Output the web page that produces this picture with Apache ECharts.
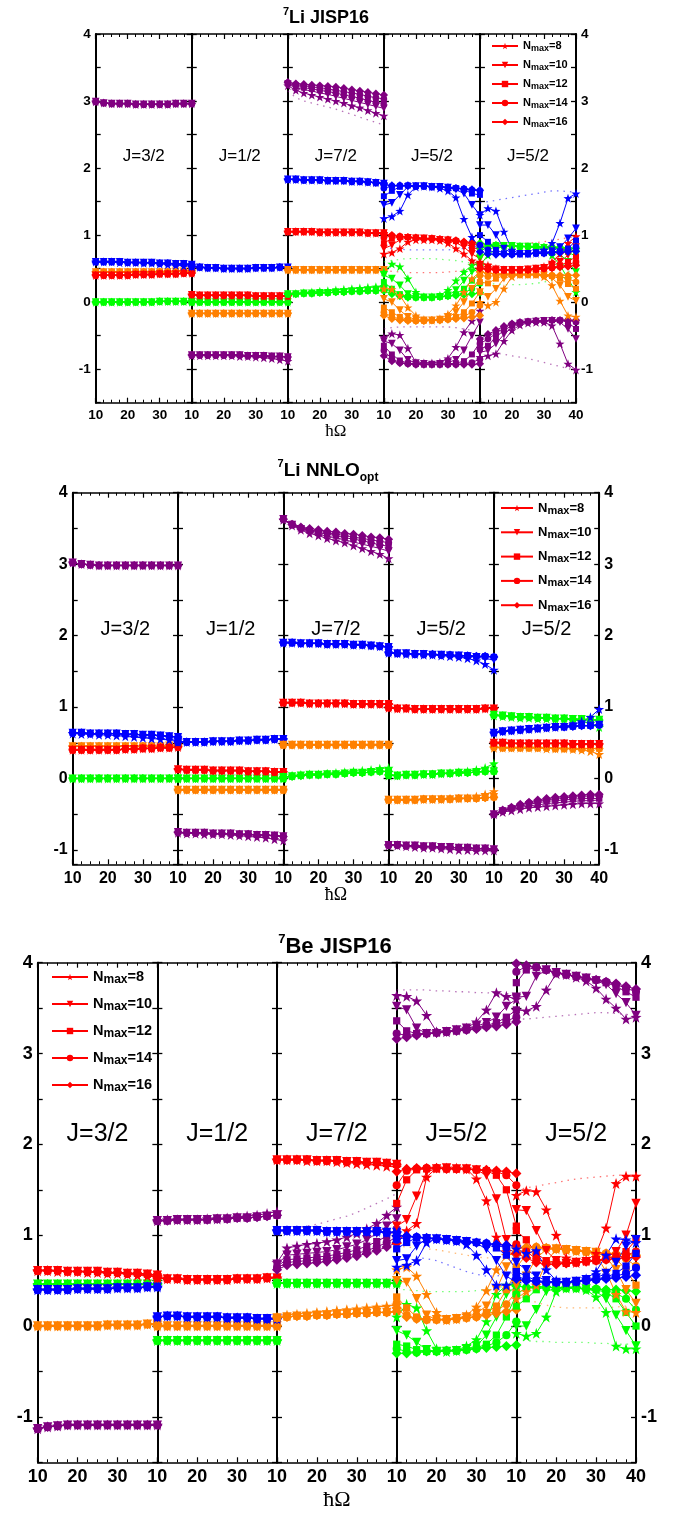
<!DOCTYPE html>
<html>
<head>
<meta charset="utf-8">
<script src="https://cdn.jsdelivr.net/npm/echarts@6/dist/echarts.min.js"></script>
<style>
  html, body { margin: 0; padding: 0; background: #fff; }
  #chart { width: 675px; height: 1513px; }
</style>
</head>
<body>
<div id="chart"></div>
<script>
// hbar-omega grid (MeV), Nmax values
const hbarOmega = [10, 12.5, 15, 17.5, 20, 22.5, 25, 27.5, 30, 32.5, 35, 37.5, 40]
const nmaxList = [8, 10, 12, 14, 16]
const subLabels = ['J=3/2', 'J=1/2', 'J=7/2', 'J=5/2', 'J=5/2']

// each level: curves for Nmax=8,10,... ; the last curve listed is shared by the remaining higher Nmax

// ---------- 7Li JISP16 ----------
const liJ_32 = {
  purple: [[2.99, 2.97, 2.96, 2.96, 2.96, 2.95, 2.95, 2.95, 2.95, 2.95, 2.96, 2.96, 2.96]],
  blue: [[0.60, 0.60, 0.60, 0.59, 0.59, 0.59, 0.58, 0.58, 0.57, 0.56, 0.55, 0.54, 0.54],
         [0.60, 0.60, 0.60, 0.60, 0.59, 0.59, 0.59, 0.59, 0.58, 0.58, 0.57, 0.57, 0.56]],
  red: [[0.40, 0.40, 0.40, 0.40, 0.40, 0.41, 0.41, 0.41, 0.42, 0.42, 0.42, 0.43, 0.43]],
  orange: [[0.45, 0.45, 0.45, 0.45, 0.45, 0.45, 0.45, 0.45, 0.45, 0.45, 0.46, 0.46, 0.46]],
  green: [[0.00, 0.00, 0.00, 0.00, 0.00, 0.00, 0.00, 0.00, 0.01, 0.01, 0.01, 0.01, 0.01]]
}
const liJ_12 = {
  blue: [[0.53, 0.52, 0.51, 0.51, 0.50, 0.50, 0.50, 0.50, 0.51, 0.51, 0.51, 0.52, 0.52]],
  red: [[0.11, 0.10, 0.10, 0.10, 0.10, 0.10, 0.10, 0.10, 0.09, 0.09, 0.09, 0.09, 0.09]],
  green: [[0.00, 0.00, 0.00, 0.00, 0.00, 0.00, 0.00, 0.00, 0.00, 0.00, 0.00, 0.00, 0.00]],
  orange: [[-0.17, -0.17, -0.17, -0.17, -0.17, -0.17, -0.17, -0.17, -0.17, -0.17, -0.17, -0.17, -0.17]],
  purple: [[-0.80, -0.80, -0.80, -0.80, -0.80, -0.80, -0.81, -0.81, -0.82, -0.83, -0.84, -0.86, -0.88],
           [-0.79, -0.79, -0.79, -0.79, -0.79, -0.79, -0.79, -0.80, -0.80, -0.80, -0.81, -0.81, -0.82]]
}
const liJ_72 = {
  purple: [[3.23, 3.16, 3.12, 3.09, 3.06, 3.03, 3.00, 2.97, 2.93, 2.90, 2.86, 2.82, 2.78],
           [3.25, 3.20, 3.17, 3.15, 3.12, 3.10, 3.07, 3.04, 3.01, 2.98, 2.95, 2.92, 2.89],
           [3.26, 3.22, 3.20, 3.18, 3.16, 3.14, 3.12, 3.09, 3.07, 3.04, 3.01, 2.98, 2.96],
           [3.27, 3.24, 3.23, 3.21, 3.20, 3.18, 3.16, 3.14, 3.12, 3.10, 3.07, 3.05, 3.03],
           [3.28, 3.26, 3.25, 3.24, 3.23, 3.22, 3.21, 3.19, 3.17, 3.15, 3.13, 3.11, 3.09]],
  blue: [[1.83, 1.83, 1.82, 1.82, 1.82, 1.81, 1.81, 1.81, 1.80, 1.80, 1.79, 1.78, 1.77]],
  red: [[1.05, 1.05, 1.05, 1.05, 1.04, 1.04, 1.04, 1.04, 1.04, 1.04, 1.03, 1.03, 1.03]],
  orange: [[0.48, 0.48, 0.48, 0.48, 0.48, 0.48, 0.48, 0.48, 0.48, 0.48, 0.48, 0.48, 0.48]],
  green: [[0.12, 0.13, 0.14, 0.15, 0.16, 0.17, 0.18, 0.19, 0.20, 0.21, 0.22, 0.23, 0.24],
          [0.12, 0.12, 0.13, 0.13, 0.14, 0.14, 0.15, 0.15, 0.16, 0.16, 0.17, 0.17, 0.18]]
}
const liJ_72_dots = {
  purple: [3.15, 3.05, 3.00, 2.97, 2.94, 2.91, 2.88, 2.84, 2.80, 2.76, 2.72, 2.68, 2.64]
}
const liJ_52a = {
  blue: [[1.25, 1.28, 1.36, 1.60, 1.72, 1.73, 1.72, 1.70, 1.66, 1.56, 1.24, 0.97, 0.80],
         [1.45, 1.48, 1.60, 1.72, 1.73, 1.73, 1.72, 1.72, 1.71, 1.68, 1.62, 1.45, 1.30],
         [1.58, 1.66, 1.72, 1.74, 1.73, 1.73, 1.72, 1.72, 1.71, 1.70, 1.68, 1.62, 1.60],
         [1.70, 1.73, 1.74, 1.74, 1.73, 1.73, 1.72, 1.72, 1.71, 1.70, 1.69, 1.67, 1.66],
         [1.75, 1.74, 1.74, 1.74, 1.73, 1.73, 1.72, 1.72, 1.71, 1.70, 1.69, 1.68, 1.67]],
  red: [[0.72, 0.74, 0.80, 0.90, 0.93, 0.93, 0.93, 0.92, 0.88, 0.80, 0.72, 0.62, 0.55],
        [0.80, 0.85, 0.93, 0.96, 0.95, 0.95, 0.94, 0.93, 0.92, 0.89, 0.82, 0.72, 0.65],
        [0.88, 0.95, 0.97, 0.97, 0.96, 0.95, 0.95, 0.94, 0.93, 0.91, 0.88, 0.82, 0.78],
        [0.96, 0.99, 0.98, 0.97, 0.96, 0.95, 0.95, 0.94, 0.93, 0.92, 0.89, 0.87, 0.84],
        [1.01, 1.00, 0.98, 0.97, 0.96, 0.95, 0.95, 0.94, 0.93, 0.92, 0.90, 0.89, 0.87]],
  green: [[0.45, 0.57, 0.53, 0.35, 0.15, 0.08, 0.08, 0.10, 0.18, 0.32, 0.45, 0.55, 0.58],
          [0.40, 0.35, 0.25, 0.12, 0.08, 0.07, 0.07, 0.08, 0.10, 0.18, 0.32, 0.45, 0.50],
          [0.30, 0.20, 0.12, 0.08, 0.07, 0.07, 0.07, 0.08, 0.09, 0.12, 0.20, 0.32, 0.42],
          [0.22, 0.15, 0.10, 0.08, 0.07, 0.07, 0.07, 0.08, 0.09, 0.11, 0.14, 0.20, 0.28],
          [0.17, 0.12, 0.09, 0.07, 0.07, 0.07, 0.07, 0.08, 0.09, 0.10, 0.11, 0.12, 0.14]],
  orange: [[0.20, 0.19, 0.10, -0.08, -0.20, -0.26, -0.27, -0.25, -0.18, -0.05, 0.15, 0.35, 0.45],
           [0.05, 0.00, -0.12, -0.22, -0.26, -0.27, -0.27, -0.26, -0.23, -0.15, 0.00, 0.20, 0.35],
           [-0.08, -0.15, -0.22, -0.26, -0.27, -0.27, -0.27, -0.26, -0.25, -0.22, -0.15, -0.02, 0.15],
           [-0.15, -0.22, -0.25, -0.27, -0.28, -0.28, -0.27, -0.27, -0.26, -0.24, -0.21, -0.15, -0.05],
           [-0.20, -0.25, -0.27, -0.28, -0.28, -0.28, -0.27, -0.27, -0.26, -0.25, -0.24, -0.22, -0.20]],
  purple: [[-0.52, -0.47, -0.49, -0.69, -0.90, -0.91, -0.91, -0.90, -0.84, -0.67, -0.45, -0.28, -0.13],
           [-0.58, -0.62, -0.72, -0.86, -0.91, -0.92, -0.93, -0.92, -0.90, -0.86, -0.72, -0.50, -0.30],
           [-0.65, -0.78, -0.87, -0.91, -0.92, -0.93, -0.93, -0.93, -0.92, -0.91, -0.88, -0.78, -0.60],
           [-0.72, -0.85, -0.90, -0.92, -0.93, -0.93, -0.93, -0.93, -0.93, -0.93, -0.92, -0.90, -0.85],
           [-0.80, -0.88, -0.91, -0.92, -0.93, -0.93, -0.93, -0.93, -0.93, -0.93, -0.93, -0.93, -0.92]]
}
const liJ_52a_dots = {
  blue: [0.82, 0.80, 0.79, 0.78, 0.78, 0.78, 0.78, 0.78, 0.78, 0.79, 0.80, 0.82, 0.84],
  green: [0.60, 0.62, 0.64, 0.65, 0.65, 0.65, 0.65, 0.64, 0.63, 0.62, 0.60, 0.58, 0.56],
  red: [0.48, 0.46, 0.45, 0.44, 0.44, 0.44, 0.44, 0.44, 0.45, 0.46, 0.48, 0.50, 0.52],
  purple: [-0.40, -0.38, -0.37, -0.37, -0.37, -0.37, -0.37, -0.37, -0.37, -0.38, -0.40, -0.42, -0.45]
}
const liJ_52b = {
  blue: [[1.30, 1.40, 1.36, 1.05, 0.78, 0.72, 0.72, 0.73, 0.78, 0.88, 1.18, 1.55, 1.62],
         [1.15, 1.15, 1.00, 0.80, 0.73, 0.72, 0.72, 0.73, 0.74, 0.76, 0.82, 0.95, 1.10],
         [1.00, 0.90, 0.78, 0.73, 0.72, 0.72, 0.72, 0.73, 0.73, 0.74, 0.76, 0.80, 0.92],
         [0.85, 0.78, 0.73, 0.72, 0.71, 0.72, 0.72, 0.73, 0.73, 0.74, 0.75, 0.77, 0.82],
         [0.75, 0.72, 0.71, 0.71, 0.71, 0.72, 0.72, 0.73, 0.73, 0.74, 0.74, 0.75, 0.76]],
  green: [[0.55, 0.70, 0.80, 0.83, 0.83, 0.83, 0.82, 0.81, 0.78, 0.70, 0.55, 0.35, 0.15],
          [0.65, 0.78, 0.83, 0.84, 0.84, 0.83, 0.83, 0.82, 0.81, 0.78, 0.72, 0.60, 0.45],
          [0.75, 0.83, 0.85, 0.84, 0.84, 0.83, 0.83, 0.82, 0.82, 0.81, 0.79, 0.75, 0.68],
          [0.82, 0.85, 0.85, 0.84, 0.84, 0.83, 0.83, 0.83, 0.82, 0.82, 0.81, 0.79, 0.76],
          [0.88, 0.86, 0.85, 0.84, 0.84, 0.83, 0.83, 0.83, 0.82, 0.82, 0.82, 0.81, 0.80]],
  red: [[0.60, 0.55, 0.50, 0.48, 0.48, 0.48, 0.49, 0.50, 0.53, 0.60, 0.72, 0.88, 0.98],
        [0.55, 0.52, 0.49, 0.48, 0.48, 0.48, 0.49, 0.50, 0.51, 0.54, 0.60, 0.70, 0.82],
        [0.52, 0.50, 0.48, 0.48, 0.48, 0.48, 0.48, 0.49, 0.50, 0.52, 0.55, 0.60, 0.68],
        [0.51, 0.49, 0.48, 0.48, 0.48, 0.48, 0.48, 0.49, 0.50, 0.51, 0.53, 0.56, 0.60],
        [0.50, 0.49, 0.48, 0.48, 0.48, 0.48, 0.48, 0.49, 0.50, 0.51, 0.52, 0.53, 0.55]],
  orange: [[0.00, -0.05, 0.00, 0.20, 0.38, 0.41, 0.41, 0.41, 0.38, 0.25, 0.02, -0.20, -0.22],
           [0.15, 0.08, 0.20, 0.35, 0.40, 0.41, 0.41, 0.41, 0.40, 0.36, 0.25, 0.08, 0.02],
           [0.30, 0.28, 0.35, 0.40, 0.41, 0.41, 0.41, 0.41, 0.40, 0.39, 0.35, 0.27, 0.20],
           [0.40, 0.38, 0.40, 0.41, 0.41, 0.41, 0.41, 0.41, 0.40, 0.40, 0.38, 0.35, 0.30],
           [0.45, 0.43, 0.42, 0.42, 0.42, 0.41, 0.41, 0.41, 0.41, 0.40, 0.40, 0.40, 0.40]],
  purple: [[-0.82, -0.80, -0.77, -0.58, -0.42, -0.34, -0.31, -0.30, -0.30, -0.35, -0.62, -0.92, -1.01],
           [-0.75, -0.72, -0.62, -0.48, -0.38, -0.32, -0.30, -0.29, -0.28, -0.28, -0.30, -0.40, -0.55],
           [-0.70, -0.65, -0.52, -0.42, -0.35, -0.31, -0.29, -0.28, -0.28, -0.27, -0.27, -0.30, -0.40],
           [-0.62, -0.55, -0.47, -0.38, -0.33, -0.30, -0.29, -0.28, -0.28, -0.27, -0.27, -0.27, -0.30],
           [-0.55, -0.48, -0.42, -0.36, -0.32, -0.30, -0.29, -0.28, -0.28, -0.27, -0.27, -0.27, -0.27]]
}
const liJ_52b_dots = {
  blue: [1.48, 1.50, 1.52, 1.54, 1.56, 1.58, 1.60, 1.62, 1.64, 1.66, 1.66, 1.65, 1.64],
  red: [0.92, 0.90, 0.88, 0.87, 0.87, 0.87, 0.88, 0.89, 0.90, 0.92, 0.94, 0.96, 0.98],
  green: [0.30, 0.28, 0.27, 0.26, 0.26, 0.26, 0.27, 0.28, 0.30, 0.33, 0.38, 0.45, 0.52],
  purple: [-0.72, -0.74, -0.76, -0.78, -0.80, -0.82, -0.84, -0.87, -0.90, -0.93, -0.96, -0.99, -1.02]
}

// ---------- 7Li NNLOopt ----------
const nnJ_32 = {
  purple: [[3.02, 3.00, 2.99, 2.98, 2.98, 2.98, 2.98, 2.98, 2.98, 2.98, 2.98, 2.98, 2.98]],
  blue: [[0.63, 0.62, 0.62, 0.61, 0.61, 0.60, 0.59, 0.58, 0.57, 0.56, 0.55, 0.54, 0.53],
         [0.64, 0.64, 0.63, 0.63, 0.63, 0.63, 0.62, 0.62, 0.61, 0.61, 0.60, 0.59, 0.58]],
  red: [[0.40, 0.40, 0.40, 0.40, 0.40, 0.40, 0.41, 0.41, 0.42, 0.42, 0.43, 0.43, 0.44]],
  orange: [[0.45, 0.45, 0.45, 0.45, 0.45, 0.45, 0.45, 0.45, 0.45, 0.45, 0.45, 0.46, 0.46]],
  green: [[0.00, 0.00, 0.00, 0.00, 0.00, 0.00, 0.00, 0.00, 0.00, 0.00, 0.00, 0.00, 0.00]]
}
const nnJ_12 = {
  blue: [[0.51, 0.51, 0.51, 0.51, 0.52, 0.52, 0.52, 0.53, 0.53, 0.54, 0.54, 0.55, 0.55]],
  red: [[0.13, 0.12, 0.12, 0.12, 0.11, 0.11, 0.11, 0.11, 0.10, 0.10, 0.10, 0.09, 0.09]],
  green: [[0.00, 0.00, 0.00, 0.00, 0.00, 0.00, 0.00, 0.00, 0.00, 0.00, 0.00, 0.00, 0.00]],
  orange: [[-0.16, -0.16, -0.16, -0.16, -0.16, -0.16, -0.16, -0.16, -0.16, -0.16, -0.16, -0.16, -0.16]],
  purple: [[-0.76, -0.77, -0.77, -0.78, -0.78, -0.78, -0.79, -0.80, -0.81, -0.82, -0.83, -0.85, -0.87],
           [-0.75, -0.76, -0.76, -0.76, -0.77, -0.77, -0.77, -0.78, -0.78, -0.79, -0.79, -0.80, -0.81]]
}
const nnJ_72 = {
  purple: [[3.62, 3.54, 3.48, 3.43, 3.40, 3.36, 3.33, 3.30, 3.26, 3.22, 3.18, 3.14, 3.08],
           [3.63, 3.55, 3.49, 3.45, 3.42, 3.39, 3.37, 3.34, 3.31, 3.28, 3.25, 3.22, 3.18],
           [3.63, 3.55, 3.50, 3.47, 3.44, 3.42, 3.40, 3.37, 3.35, 3.33, 3.30, 3.27, 3.25],
           [3.63, 3.56, 3.51, 3.48, 3.46, 3.44, 3.42, 3.40, 3.38, 3.36, 3.34, 3.32, 3.30],
           [3.63, 3.56, 3.52, 3.50, 3.48, 3.46, 3.45, 3.43, 3.42, 3.40, 3.38, 3.37, 3.35]],
  blue: [[1.90, 1.90, 1.89, 1.89, 1.89, 1.88, 1.88, 1.88, 1.87, 1.87, 1.86, 1.85, 1.84]],
  red: [[1.06, 1.06, 1.06, 1.05, 1.05, 1.05, 1.05, 1.05, 1.04, 1.04, 1.04, 1.04, 1.04]],
  orange: [[0.47, 0.47, 0.47, 0.47, 0.47, 0.47, 0.47, 0.47, 0.47, 0.47, 0.47, 0.47, 0.47]],
  green: [[0.02, 0.04, 0.05, 0.06, 0.06, 0.07, 0.08, 0.09, 0.10, 0.11, 0.12, 0.14, 0.15],
          [0.02, 0.03, 0.04, 0.05, 0.05, 0.06, 0.06, 0.07, 0.08, 0.08, 0.09, 0.10, 0.10]]
}
const nnJ_52a = {
  blue: [[1.76, 1.75, 1.74, 1.74, 1.73, 1.73, 1.72, 1.71, 1.70, 1.68, 1.65, 1.60, 1.52],
         [1.76, 1.75, 1.75, 1.74, 1.74, 1.73, 1.73, 1.72, 1.72, 1.71, 1.70, 1.68, 1.66],
         [1.76, 1.75, 1.75, 1.74, 1.74, 1.74, 1.73, 1.73, 1.72, 1.72, 1.71, 1.71, 1.70]],
  red: [[0.99, 0.98, 0.98, 0.97, 0.97, 0.97, 0.97, 0.97, 0.97, 0.97, 0.97, 0.98, 0.98]],
  green: [[0.04, 0.04, 0.05, 0.05, 0.06, 0.06, 0.07, 0.08, 0.09, 0.10, 0.12, 0.15, 0.21],
          [0.05, 0.04, 0.05, 0.05, 0.06, 0.06, 0.07, 0.07, 0.08, 0.08, 0.09, 0.10, 0.10]],
  orange: [[-0.30, -0.30, -0.30, -0.30, -0.29, -0.29, -0.29, -0.28, -0.28, -0.27, -0.25, -0.22, -0.18],
           [-0.30, -0.30, -0.30, -0.30, -0.29, -0.29, -0.29, -0.29, -0.28, -0.28, -0.28, -0.27, -0.26]],
  purple: [[-0.94, -0.94, -0.95, -0.96, -0.97, -0.97, -0.98, -0.99, -1.00, -1.00, -1.01, -1.01, -1.01],
           [-0.93, -0.93, -0.94, -0.94, -0.95, -0.95, -0.96, -0.96, -0.97, -0.97, -0.98, -0.98, -0.99]]
}
const nnJ_52b = {
  green: [[0.88, 0.87, 0.86, 0.85, 0.85, 0.84, 0.84, 0.83, 0.83, 0.82, 0.80, 0.77, 0.72],
          [0.89, 0.88, 0.87, 0.86, 0.86, 0.85, 0.85, 0.84, 0.84, 0.83, 0.83, 0.82, 0.82]],
  blue: [[0.64, 0.66, 0.67, 0.68, 0.69, 0.70, 0.71, 0.72, 0.73, 0.75, 0.80, 0.86, 0.97],
         [0.64, 0.66, 0.67, 0.68, 0.69, 0.70, 0.71, 0.72, 0.72, 0.73, 0.74, 0.74, 0.75]],
  red: [[0.50, 0.50, 0.49, 0.49, 0.49, 0.49, 0.49, 0.49, 0.49, 0.48, 0.48, 0.48, 0.48]],
  orange: [[0.43, 0.43, 0.43, 0.43, 0.43, 0.43, 0.42, 0.42, 0.42, 0.41, 0.40, 0.38, 0.34],
           [0.44, 0.43, 0.43, 0.43, 0.43, 0.43, 0.43, 0.42, 0.42, 0.42, 0.42, 0.42, 0.42]],
  purple: [[-0.50, -0.47, -0.45, -0.43, -0.41, -0.40, -0.39, -0.38, -0.37, -0.36, -0.35, -0.35, -0.35],
           [-0.50, -0.46, -0.43, -0.41, -0.38, -0.37, -0.35, -0.34, -0.33, -0.32, -0.31, -0.31, -0.30],
           [-0.50, -0.45, -0.42, -0.39, -0.36, -0.34, -0.32, -0.31, -0.30, -0.29, -0.28, -0.28, -0.28],
           [-0.50, -0.45, -0.41, -0.37, -0.34, -0.32, -0.30, -0.28, -0.27, -0.26, -0.25, -0.24, -0.24],
           [-0.50, -0.44, -0.40, -0.36, -0.33, -0.30, -0.28, -0.26, -0.25, -0.24, -0.23, -0.22, -0.22]]
}

// ---------- 7Be JISP16 ----------
const beJ_32 = {
  red: [[0.61, 0.61, 0.60, 0.60, 0.60, 0.59, 0.59, 0.58, 0.58, 0.57, 0.56, 0.55, 0.54],
        [0.61, 0.61, 0.61, 0.60, 0.60, 0.60, 0.60, 0.59, 0.59, 0.58, 0.58, 0.57, 0.56]],
  green: [[0.46, 0.46, 0.46, 0.46, 0.46, 0.46, 0.46, 0.46, 0.46, 0.46, 0.46, 0.46, 0.46]],
  blue: [[0.40, 0.40, 0.40, 0.40, 0.41, 0.41, 0.41, 0.41, 0.42, 0.42, 0.42, 0.43, 0.43]],
  orange: [[0.00, 0.00, 0.00, 0.00, 0.00, 0.00, 0.00, 0.01, 0.01, 0.01, 0.01, 0.02, 0.02]],
  purple: [[-1.13, -1.11, -1.10, -1.09, -1.09, -1.09, -1.09, -1.09, -1.09, -1.09, -1.09, -1.09, -1.09]]
}
const beJ_12 = {
  purple: [[1.16, 1.17, 1.17, 1.17, 1.17, 1.18, 1.18, 1.19, 1.20, 1.21, 1.22, 1.24, 1.26],
           [1.16, 1.16, 1.17, 1.17, 1.17, 1.17, 1.18, 1.18, 1.19, 1.19, 1.20, 1.21, 1.22]],
  red: [[0.53, 0.52, 0.52, 0.51, 0.51, 0.51, 0.51, 0.51, 0.52, 0.52, 0.52, 0.53, 0.53]],
  blue: [[0.10, 0.11, 0.11, 0.10, 0.10, 0.10, 0.10, 0.09, 0.09, 0.09, 0.08, 0.08, 0.08]],
  orange: [[0.00, 0.00, 0.00, 0.00, 0.00, 0.00, 0.00, 0.00, 0.00, 0.00, 0.00, 0.00, 0.00]],
  green: [[-0.16, -0.16, -0.16, -0.16, -0.16, -0.16, -0.16, -0.16, -0.16, -0.16, -0.16, -0.16, -0.16]]
}
const beJ_72 = {
  red: [[1.83, 1.83, 1.83, 1.82, 1.82, 1.82, 1.81, 1.80, 1.79, 1.78, 1.77, 1.76, 1.75],
        [1.83, 1.83, 1.83, 1.83, 1.82, 1.82, 1.82, 1.81, 1.81, 1.80, 1.80, 1.79, 1.78]],
  blue: [[1.05, 1.05, 1.05, 1.05, 1.05, 1.04, 1.04, 1.04, 1.04, 1.04, 1.04, 1.03, 1.03]],
  purple: [[0.70, 0.86, 0.88, 0.90, 0.91, 0.93, 0.95, 0.98, 1.02, 1.07, 1.13, 1.22, 1.31],
           [0.68, 0.78, 0.79, 0.80, 0.81, 0.82, 0.84, 0.87, 0.90, 0.95, 1.02, 1.10, 1.18],
           [0.66, 0.73, 0.74, 0.75, 0.76, 0.77, 0.79, 0.81, 0.84, 0.88, 0.93, 0.99, 1.06],
           [0.64, 0.70, 0.71, 0.72, 0.73, 0.74, 0.76, 0.78, 0.80, 0.83, 0.87, 0.92, 0.98],
           [0.62, 0.67, 0.68, 0.69, 0.70, 0.71, 0.73, 0.75, 0.77, 0.80, 0.83, 0.87, 0.92]],
  green: [[0.47, 0.47, 0.47, 0.47, 0.47, 0.47, 0.47, 0.47, 0.47, 0.47, 0.47, 0.47, 0.47]],
  orange: [[0.10, 0.12, 0.13, 0.14, 0.15, 0.16, 0.17, 0.18, 0.19, 0.20, 0.21, 0.22, 0.23],
           [0.09, 0.10, 0.11, 0.11, 0.12, 0.12, 0.13, 0.13, 0.14, 0.14, 0.15, 0.15, 0.16]]
}
const beJ_72_dots = {
  purple: [1.00, 1.05, 1.08, 1.10, 1.12, 1.15, 1.18, 1.21, 1.25, 1.30, 1.35, 1.40, 1.46]
}
const beJ_52a = {
  purple: [[3.64, 3.63, 3.58, 3.42, 3.24, 3.24, 3.26, 3.28, 3.35, 3.48, 3.67, 3.63, 3.60],
           [3.52, 3.48, 3.28, 3.22, 3.22, 3.24, 3.26, 3.28, 3.30, 3.34, 3.40, 3.52, 3.60],
           [3.36, 3.25, 3.22, 3.22, 3.23, 3.24, 3.25, 3.27, 3.29, 3.31, 3.34, 3.40, 3.48],
           [3.22, 3.20, 3.21, 3.22, 3.23, 3.24, 3.25, 3.26, 3.28, 3.30, 3.32, 3.36, 3.40],
           [3.16, 3.18, 3.20, 3.22, 3.23, 3.24, 3.25, 3.26, 3.27, 3.29, 3.30, 3.32, 3.35]],
  red: [[0.90, 1.05, 1.13, 1.64, 1.74, 1.74, 1.74, 1.73, 1.62, 1.38, 0.98, 0.82, 0.78],
        [1.10, 1.17, 1.43, 1.70, 1.73, 1.74, 1.73, 1.73, 1.72, 1.66, 1.40, 0.95, 0.82],
        [1.35, 1.61, 1.72, 1.73, 1.73, 1.74, 1.73, 1.73, 1.72, 1.71, 1.66, 1.50, 1.10],
        [1.55, 1.71, 1.73, 1.74, 1.74, 1.73, 1.73, 1.73, 1.72, 1.71, 1.70, 1.66, 1.55],
        [1.70, 1.73, 1.74, 1.74, 1.74, 1.73, 1.73, 1.73, 1.72, 1.72, 1.71, 1.70, 1.68]],
  blue: [[0.65, 0.67, 0.72, 0.92, 0.96, 0.95, 0.94, 0.90, 0.78, 0.62, 0.45, 0.45, 0.47],
         [0.72, 0.74, 0.88, 0.96, 0.96, 0.95, 0.94, 0.93, 0.91, 0.85, 0.72, 0.55, 0.48],
         [0.85, 0.92, 0.97, 0.97, 0.96, 0.95, 0.94, 0.93, 0.92, 0.90, 0.86, 0.78, 0.62],
         [0.95, 0.98, 0.98, 0.97, 0.96, 0.95, 0.94, 0.93, 0.92, 0.91, 0.89, 0.86, 0.80],
         [0.99, 0.99, 0.98, 0.97, 0.96, 0.95, 0.94, 0.93, 0.92, 0.91, 0.90, 0.89, 0.88]],
  orange: [[0.62, 0.65, 0.55, 0.35, 0.15, 0.07, 0.08, 0.12, 0.21, 0.39, 0.62, 0.78, 0.80],
           [0.50, 0.48, 0.30, 0.12, 0.07, 0.07, 0.08, 0.10, 0.14, 0.22, 0.40, 0.65, 0.78],
           [0.32, 0.20, 0.10, 0.07, 0.07, 0.07, 0.08, 0.09, 0.11, 0.15, 0.22, 0.40, 0.60],
           [0.25, 0.12, 0.08, 0.07, 0.07, 0.07, 0.08, 0.09, 0.10, 0.13, 0.17, 0.24, 0.38],
           [0.20, 0.10, 0.08, 0.07, 0.07, 0.07, 0.08, 0.09, 0.10, 0.12, 0.14, 0.16, 0.18]],
  green: [[0.10, 0.24, 0.20, -0.05, -0.25, -0.28, -0.27, -0.22, -0.15, 0.05, 0.35, 0.45, 0.45],
          [-0.05, -0.10, -0.18, -0.26, -0.28, -0.28, -0.27, -0.25, -0.22, -0.10, 0.10, 0.35, 0.44],
          [-0.20, -0.22, -0.26, -0.28, -0.28, -0.27, -0.27, -0.26, -0.24, -0.20, -0.10, 0.10, 0.35],
          [-0.25, -0.28, -0.29, -0.28, -0.28, -0.27, -0.27, -0.26, -0.25, -0.22, -0.18, -0.10, 0.05],
          [-0.30, -0.30, -0.29, -0.28, -0.28, -0.27, -0.27, -0.26, -0.25, -0.24, -0.23, -0.22, -0.21]]
}
const beJ_52a_dots = {
  purple: [3.70, 3.70, 3.70, 3.70, 3.69, 3.69, 3.68, 3.68, 3.67, 3.67, 3.66, 3.66, 3.65],
  orange: [0.88, 0.87, 0.86, 0.85, 0.84, 0.82, 0.80, 0.78, 0.76, 0.75, 0.75, 0.77, 0.80],
  blue: [0.80, 0.78, 0.76, 0.74, 0.72, 0.68, 0.64, 0.60, 0.57, 0.55, 0.55, 0.57, 0.60],
  green: [0.40, 0.40, 0.39, 0.38, 0.38, 0.38, 0.38, 0.38, 0.39, 0.40, 0.42, 0.44, 0.46]
}
const beJ_52b = {
  purple: [[3.48, 3.47, 3.52, 3.70, 3.88, 3.87, 3.84, 3.80, 3.72, 3.60, 3.50, 3.38, 3.40],
           [3.62, 3.63, 3.85, 3.92, 3.89, 3.87, 3.85, 3.83, 3.80, 3.76, 3.66, 3.56, 3.42],
           [3.78, 3.92, 3.95, 3.92, 3.89, 3.87, 3.85, 3.83, 3.81, 3.78, 3.74, 3.68, 3.62],
           [3.90, 3.96, 3.95, 3.92, 3.89, 3.87, 3.85, 3.83, 3.81, 3.79, 3.76, 3.72, 3.68],
           [3.99, 3.97, 3.95, 3.92, 3.89, 3.87, 3.85, 3.83, 3.81, 3.79, 3.77, 3.74, 3.71]],
  red: [[1.44, 1.49, 1.48, 1.28, 1.00, 0.75, 0.70, 0.72, 0.80, 1.08, 1.57, 1.65, 1.65],
        [1.28, 1.27, 1.05, 0.83, 0.72, 0.69, 0.70, 0.71, 0.72, 0.75, 0.82, 1.00, 1.35],
        [1.05, 0.95, 0.80, 0.72, 0.70, 0.69, 0.70, 0.71, 0.72, 0.74, 0.77, 0.82, 0.95],
        [0.90, 0.82, 0.74, 0.70, 0.69, 0.69, 0.70, 0.71, 0.72, 0.73, 0.75, 0.78, 0.82],
        [0.80, 0.75, 0.70, 0.68, 0.68, 0.69, 0.70, 0.71, 0.72, 0.73, 0.74, 0.75, 0.76]],
  orange: [[0.30, 0.38, 0.45, 0.70, 0.85, 0.84, 0.83, 0.82, 0.78, 0.60, 0.35, 0.16, 0.15],
           [0.45, 0.55, 0.75, 0.84, 0.85, 0.84, 0.83, 0.82, 0.81, 0.76, 0.62, 0.40, 0.25],
           [0.65, 0.78, 0.85, 0.86, 0.85, 0.84, 0.83, 0.82, 0.81, 0.79, 0.74, 0.62, 0.45],
           [0.80, 0.85, 0.87, 0.86, 0.85, 0.84, 0.83, 0.82, 0.81, 0.80, 0.78, 0.74, 0.66],
           [0.86, 0.87, 0.87, 0.86, 0.85, 0.84, 0.83, 0.82, 0.81, 0.80, 0.80, 0.79, 0.78]],
  blue: [[0.85, 0.80, 0.83, 0.62, 0.50, 0.48, 0.49, 0.52, 0.60, 0.78, 0.96, 0.95, 0.92],
         [0.70, 0.62, 0.55, 0.50, 0.48, 0.48, 0.49, 0.51, 0.53, 0.58, 0.70, 0.88, 0.95],
         [0.60, 0.55, 0.50, 0.49, 0.48, 0.48, 0.49, 0.50, 0.52, 0.54, 0.58, 0.66, 0.80],
         [0.55, 0.51, 0.49, 0.48, 0.48, 0.48, 0.49, 0.50, 0.51, 0.53, 0.55, 0.58, 0.64],
         [0.52, 0.50, 0.49, 0.48, 0.48, 0.48, 0.49, 0.50, 0.51, 0.52, 0.53, 0.54, 0.56]],
  green: [[-0.08, -0.11, -0.08, 0.10, 0.38, 0.42, 0.42, 0.40, 0.32, 0.15, -0.22, -0.25, -0.25],
          [0.00, 0.00, 0.18, 0.38, 0.42, 0.42, 0.42, 0.41, 0.38, 0.30, 0.12, -0.05, -0.22],
          [0.22, 0.30, 0.40, 0.43, 0.42, 0.42, 0.42, 0.41, 0.40, 0.37, 0.30, 0.15, 0.00],
          [0.35, 0.42, 0.43, 0.43, 0.42, 0.42, 0.42, 0.41, 0.41, 0.39, 0.36, 0.30, 0.18],
          [0.44, 0.43, 0.43, 0.43, 0.42, 0.42, 0.42, 0.41, 0.41, 0.40, 0.40, 0.39, 0.38]]
}
const beJ_52b_dots = {
  purple: [3.38, 3.38, 3.39, 3.40, 3.41, 3.42, 3.43, 3.44, 3.45, 3.45, 3.44, 3.43, 3.42],
  red: [1.50, 1.52, 1.54, 1.56, 1.58, 1.60, 1.62, 1.63, 1.64, 1.65, 1.66, 1.66, 1.66],
  orange: [0.35, 0.30, 0.26, 0.23, 0.21, 0.20, 0.20, 0.20, 0.20, 0.20, 0.21, 0.22, 0.24],
  green: [-0.15, -0.16, -0.17, -0.17, -0.18, -0.18, -0.18, -0.18, -0.19, -0.19, -0.20, -0.20, -0.20]
}

const panelSubs = [
  [liJ_32, liJ_12, liJ_72, liJ_52a, liJ_52b],
  [nnJ_32, nnJ_12, nnJ_72, nnJ_52a, nnJ_52b],
  [beJ_32, beJ_12, beJ_72, beJ_52a, beJ_52b]
]
const panelDots = [
  [null, null, liJ_72_dots, liJ_52a_dots, liJ_52b_dots],
  [null, null, null, null, null],
  [null, null, beJ_72_dots, beJ_52a_dots, beJ_52b_dots]
]
const panelTitles = ['{sup|7}{t|Li JISP16}', '{sup|7}{t|Li NNLO}{sub|opt}', '{sup|7}{t|Be JISP16}']

// ---------- styles & layout ----------
const COLORS = { purple: '#800080', blue: '#0000ff', red: '#ff0000', orange: '#ff8000', green: '#00ff00' }
const DRAW_ORDER = ['purple', 'green', 'orange', 'red', 'blue']
const STAR = 'path://M50,0L61.8,35.1L98.9,35.5L69.1,57.6L80.2,93L50,71.6L19.8,93L30.9,57.6L1.1,35.5L38.2,35.1Z'
const TRI_DOWN = 'path://M0,0L100,0L50,86.6Z'
const NMAX_SYMBOLS = [STAR, TRI_DOWN, 'rect', 'circle', 'diamond']
const SYMBOL_SCALE = [1.3, 1.1, 0.85, 0.95, 1.2]
const FONT = 'Liberation Sans, Arial, sans-serif'

const LAYOUT = [
  { left: 95.7, width: 96.06, top: 34, height: 368.7, yMin: -1.5, yMax: 4, tick: 13.5, jFont: 17, jY: 156, sym: 7,
    title: { x: 326, y: 18, size: 18, sup: 11, sub: 11 }, hbar: { y: 432, size: 17 },
    legend: { left: 491, top: 39, w: 26, font: 11, sub: 9, lh: 14, gap: 5 } },
  { left: 72.7, width: 105.3, top: 492.7, height: 371.6, yMin: -1.2, yMax: 4, tick: 16, jFont: 20, jY: 629, sym: 7.5,
    title: { x: 328, y: 471, size: 19, sup: 11, sub: 12 }, hbar: { y: 895, size: 18 },
    legend: { left: 500, top: 500, w: 32, font: 13, sub: 11, lh: 16, gap: 8.3 } },
  { left: 37.7, width: 119.66, top: 962.7, height: 499.6, yMin: -1.5, yMax: 4, tick: 18, jFont: 25, jY: 1134, sym: 8.5,
    title: { x: 335, y: 947, size: 22, sup: 13, sub: 13 }, hbar: { y: 1500, size: 22 },
    legend: { left: 51, top: 968, w: 36, font: 14.5, sub: 12, lh: 18, gap: 9 } }
]

const grids = [], xAxes = [], yAxes = [], series = [], graphics = [], legends = []
const legendNames = nmaxList.map(n => 'Nmax=' + n)

// red dummy series feeding the legends
legendNames.forEach((name, i) => {
  series.push({
    type: 'line', name, data: [], xAxisIndex: 0, yAxisIndex: 0,
    symbol: NMAX_SYMBOLS[i], symbolSize: 7 * SYMBOL_SCALE[i],
    itemStyle: { color: '#ff0000' }, lineStyle: { color: '#ff0000', width: 1.2 }
  })
})

const black = { color: '#000' }

LAYOUT.forEach((L, p) => {
  for (let k = 0; k < 5; k++) {
    const g = p * 5 + k
    const left = L.left + k * L.width
    grids.push({ left, top: L.top, width: L.width, height: L.height, outerBoundsMode: 'none' })
    const xBase = {
      gridIndex: g, type: 'value', min: 10, max: 40, interval: 10,
      axisLine: { show: true, onZero: false, lineStyle: { ...black, width: 1.5 } },
      axisTick: { show: true, inside: true, length: 5, lineStyle: { ...black, width: 1.2 } },
      minorTick: { show: true, splitNumber: 4, length: 3, lineStyle: { ...black, width: 1 } },
      splitLine: { show: false }, minorSplitLine: { show: false }
    }
    xAxes.push({
      ...xBase, position: 'bottom',
      axisLabel: {
        show: true, color: '#000', fontWeight: 'bold', fontSize: L.tick, fontFamily: FONT, margin: 6,
        formatter: v => (v === 40 && k < 4) ? '' : String(v)
      }
    })
    xAxes.push({ ...xBase, position: 'top', axisLabel: { show: false } })

    const yRange = L.yMin === -1.2
      ? { min: L.yMin, max: L.yMax, minInterval: 0.5, maxInterval: 0.5 }
      : { min: L.yMin, max: L.yMax, interval: 0.5 }
    const yBase = {
      gridIndex: g, type: 'value', ...yRange,
      axisLine: { show: true, onZero: false, lineStyle: { ...black, width: 2 } },
      axisTick: { show: true, inside: true, length: 5, lineStyle: { ...black, width: 1.3 } },
      splitLine: { show: false }
    }
    const yLabel = show => ({
      show, color: '#000', fontWeight: 'bold', fontSize: L.tick, fontFamily: FONT, margin: 5,
      formatter: v => Math.abs(v - Math.round(v)) < 1e-6 ? String(Math.round(v)) : ''
    })
    yAxes.push({ ...yBase, position: 'left', axisLabel: yLabel(k === 0) })
    yAxes.push({ ...yBase, position: 'right', axisLabel: yLabel(k === 4) })

    // dotted, marker-less curves
    const dots = panelDots[p][k]
    if (dots) {
      Object.keys(dots).forEach(lv => {
        series.push({
          type: 'line', xAxisIndex: 2 * g, yAxisIndex: 2 * g, silent: true,
          data: hbarOmega.map((x, i) => [x, dots[lv][i]]),
          symbol: 'none', clip: true,
          lineStyle: { color: COLORS[lv], width: 1.3, type: [1.5, 5], opacity: 0.55 }
        })
      })
    }

    const sub = panelSubs[p][k]
    DRAW_ORDER.forEach(lv => {
      const curves = sub[lv]
      if (!curves) return
      nmaxList.forEach((n, i) => {
        const c = curves[Math.min(i, curves.length - 1)]
        series.push({
          type: 'line', xAxisIndex: 2 * g, yAxisIndex: 2 * g, silent: true, clip: true,
          name: lv + '-' + g + '-' + n,
          data: hbarOmega.map((x, j) => [x, c[j]]),
          symbol: NMAX_SYMBOLS[i], symbolSize: L.sym * SYMBOL_SCALE[i],
          itemStyle: { color: COLORS[lv] },
          lineStyle: { color: COLORS[lv], width: 1 }
        })
      })
    })

    graphics.push({
      type: 'text', x: left + L.width / 2, y: L.jY,
      style: { text: subLabels[k], font: `${L.jFont}px ${FONT}`, fill: '#000', align: 'center', verticalAlign: 'middle' }
    })
  }

  // panel title
  graphics.push({
    type: 'text', x: L.title.x, y: L.title.y,
    style: {
      text: panelTitles[p], align: 'center', verticalAlign: 'middle', fill: '#000',
      rich: {
        sup: { fontSize: L.title.sup, fontWeight: 'bold', fontFamily: FONT, verticalAlign: 'top', lineHeight: L.title.sup },
        t: { fontSize: L.title.size, fontWeight: 'bold', fontFamily: FONT, lineHeight: L.title.size + 6 },
        sub: { fontSize: L.title.sub, fontWeight: 'bold', fontFamily: FONT, verticalAlign: 'bottom', lineHeight: L.title.sub }
      }
    }
  })
  // x-axis name
  graphics.push({
    type: 'text', x: L.left + 2.5 * L.width, y: L.hbar.y,
    style: { text: 'ħΩ', font: `${L.hbar.size}px Liberation Serif, serif`, fill: '#000', align: 'center', verticalAlign: 'middle' }
  })

  legends.push({
    data: legendNames, orient: 'vertical', left: L.legend.left, top: L.legend.top, padding: 0,
    itemWidth: L.legend.w, itemHeight: 8, itemGap: L.legend.gap, selectedMode: false,
    formatter: name => 'N{s|max}=' + name.split('=')[1],
    textStyle: {
      color: '#000', fontWeight: 'bold', fontSize: L.legend.font, fontFamily: FONT, lineHeight: L.legend.lh,
      rich: { s: { fontSize: L.legend.sub, fontWeight: 'bold', fontFamily: FONT, verticalAlign: 'bottom', lineHeight: L.legend.sub } }
    }
  })
})

const chart = echarts.init(document.getElementById('chart'))
chart.setOption({
  animation: false,
  backgroundColor: '#fff',
  grid: grids,
  xAxis: xAxes,
  yAxis: yAxes,
  legend: legends,
  series,
  graphic: graphics
})
</script>
</body>
</html>
